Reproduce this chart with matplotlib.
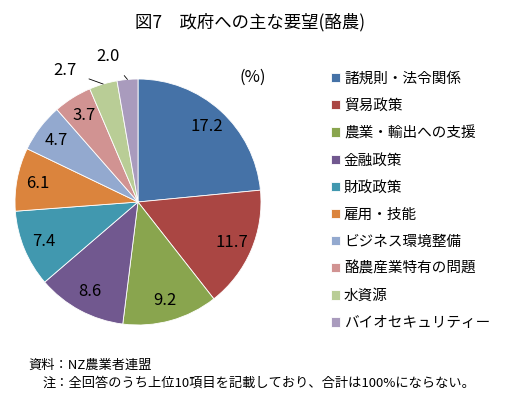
import numpy as np
import matplotlib
matplotlib.use("Agg")
from matplotlib import pyplot as plt

plt.rcParams['font.family'] = ['Noto Sans CJK JP', 'DejaVu Sans']

categories = ["諸規則・法令関係", "貿易政策", "農業・輸出への支援", "金融政策", "財政政策",
              "雇用・技能", "ビジネス環境整備", "酪農産業特有の問題", "水資源", "バイオセキュリティー"]
values = [17.2, 11.7, 9.2, 8.6, 7.4, 6.1, 4.7, 3.7, 2.7, 2.0]
colors = ["#4572A7", "#AA4643", "#89A54E", "#71588F", "#4198AF",
          "#DB843D", "#93A9CF", "#D19392", "#B9CD96", "#A99BBD"]

W, H = 507, 399
fig = plt.figure(figsize=(W / 100, H / 100), dpi=100)

# pie centre (138,202) px, radius 123 px
cx, cy, r = 138, 202, 123
ax = fig.add_axes([(cx - r) / W, (H - cy - r) / H, 2 * r / W, 2 * r / H])
wedges, _ = ax.pie(values, colors=colors, startangle=90, counterclock=False,
                   wedgeprops=dict(edgecolor="white", linewidth=0.6))
ax.set_xlim(-1, 1)
ax.set_ylim(-1, 1)
ax.set_aspect("equal")

# labels inside for the larger slices, leader lines for the two smallest
outside = {8: (-0.59, 1.07), 9: (-0.24, 1.18)}
for i, w in enumerate(wedges):
    mid = np.deg2rad((w.theta1 + w.theta2) / 2)
    txt = f"{values[i]:.1f}"
    if i in outside:
        tx, ty = outside[i]
        ax.annotate(txt, xy=(np.cos(mid), np.sin(mid)), xytext=(tx, ty),
                    ha="center", va="center", fontsize=12,
                    arrowprops=dict(arrowstyle="-", color="black", lw=0.6,
                                    shrinkA=7, shrinkB=0))
    else:
        d = 0.83
        ax.text(d * np.cos(mid), d * np.sin(mid), txt, ha="center", va="center",
                fontsize=12)

fig.text(253 / W, 1 - 77 / H, "(%)", ha="center", va="center", fontsize=12)

fig.text(250 / W, 1 - 22 / H, "図7\u3000政府への主な要望(酪農)", ha="center", va="center",
         fontsize=12.5)

fig.legend(wedges, categories, loc="upper left", bbox_to_anchor=(325 / W, 1 - 66 / H),
           frameon=False, fontsize=10.5, handlelength=0.6, handleheight=0.6,
           handletextpad=0.3, labelspacing=0.9, borderaxespad=0)

fig.text(28 / W, 1 - 365 / H, "資料：NZ農業者連盟", ha="left", va="center", fontsize=9.5)
fig.text(43 / W, 1 - 383 / H, "注：全回答のうち上位10項目を記載しており、合計は100%にならない。",
         ha="left", va="center", fontsize=9.5)

fig.savefig("out.png", dpi=100)
